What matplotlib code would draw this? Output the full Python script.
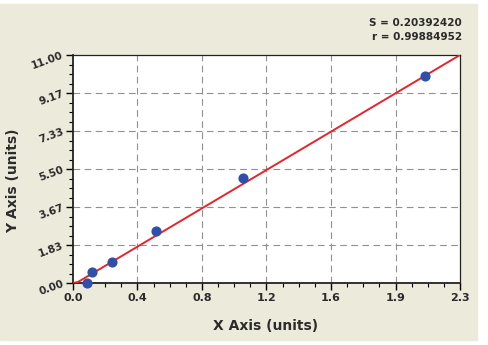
import numpy as np
import matplotlib
matplotlib.use("Agg")
from matplotlib import pyplot as plt
from matplotlib.patches import Rectangle
from matplotlib.ticker import AutoMinorLocator

# measured standards
x_vals = [0.083, 0.113, 0.232, 0.493, 1.01, 2.09]
y_vals = [0.0, 0.53, 1.01, 2.51, 5.07, 9.99]

# fitted curve as drawn
fit_x = [0.0, 0.03, 2.3]
fit_y = [0.0, 0.05, 11.0]

x_ticks = [0.0, 2.3 / 6, 2 * 2.3 / 6, 3 * 2.3 / 6, 4 * 2.3 / 6, 5 * 2.3 / 6, 2.3]
x_labels = ["0.0", "0.4", "0.8", "1.2", "1.6", "1.9", "2.3"]
y_ticks = [0.0, 11 / 6, 2 * 11 / 6, 3 * 11 / 6, 4 * 11 / 6, 5 * 11 / 6, 11.0]
y_labels = ["0.00", "1.83", "3.67", "5.50", "7.33", "9.17", "11.00"]

s_text = "S = 0.20392420"
r_text = "r = 0.99884952"

bg = "#ECEADB"
txt = "#2b2b2b"

fig = plt.figure(figsize=(4.89, 3.45), dpi=100)
fig.patch.set_facecolor("white")
fig.patches.append(Rectangle((0, 5 / 345), 477 / 489, 336 / 345,
                             transform=fig.transFigure, color=bg, zorder=-10))

ax = fig.add_axes([73 / 489, 1 - 283 / 345, 387 / 489, 228 / 345])
ax.set_facecolor("white")
ax.set_xlim(0, 2.3)
ax.set_ylim(0, 11)

ax.plot(fit_x, fit_y, color="#E8232B", lw=1.4, zorder=3)
ax.plot(x_vals, y_vals, "o", color="#2F4FA8", ms=6.3, zorder=4, clip_on=False)

ax.set_xticks(x_ticks)
ax.set_xticklabels(x_labels, fontsize=8, fontweight="bold", color=txt)
ax.set_yticks(y_ticks)
ax.set_yticklabels(y_labels, fontsize=7.5, fontweight="bold", color=txt,
                   rotation=20, rotation_mode="anchor", ha="right", va="center")
ax.xaxis.set_minor_locator(AutoMinorLocator(4))
ax.yaxis.set_minor_locator(AutoMinorLocator(4))
ax.tick_params(which="major", direction="out", length=5, width=1, color="black", pad=2)
ax.tick_params(which="minor", direction="out", length=3, width=0.8, color="black")

for v in x_ticks[1:-1]:
    ax.axvline(v, color="#909090", lw=0.8, ls=(0, (6, 4)), zorder=1)
for v in y_ticks[1:-1]:
    ax.axhline(v, color="#909090", lw=0.8, ls=(0, (6, 4)), zorder=1)

for sp in ax.spines.values():
    sp.set_linewidth(0.9)
    sp.set_color("#222222")
ax.spines["left"].set_linewidth(1.3)
ax.spines["bottom"].set_linewidth(1.3)

fig.text(266 / 489, 1 - 326 / 345, "X Axis (units)", ha="center", va="center",
         fontsize=10, fontweight="bold", color=txt)
fig.text(13 / 489, 1 - 181 / 345, "Y Axis (units)", ha="center", va="center",
         rotation=90, fontsize=10, fontweight="bold", color=txt)
fig.text(462 / 489, 1 - 23 / 345, s_text, ha="right", va="center",
         fontsize=7.5, fontweight="bold", color=txt)
fig.text(462 / 489, 1 - 37 / 345, r_text, ha="right", va="center",
         fontsize=7.5, fontweight="bold", color=txt)

fig.savefig("out.png", dpi=100, facecolor=fig.get_facecolor())
